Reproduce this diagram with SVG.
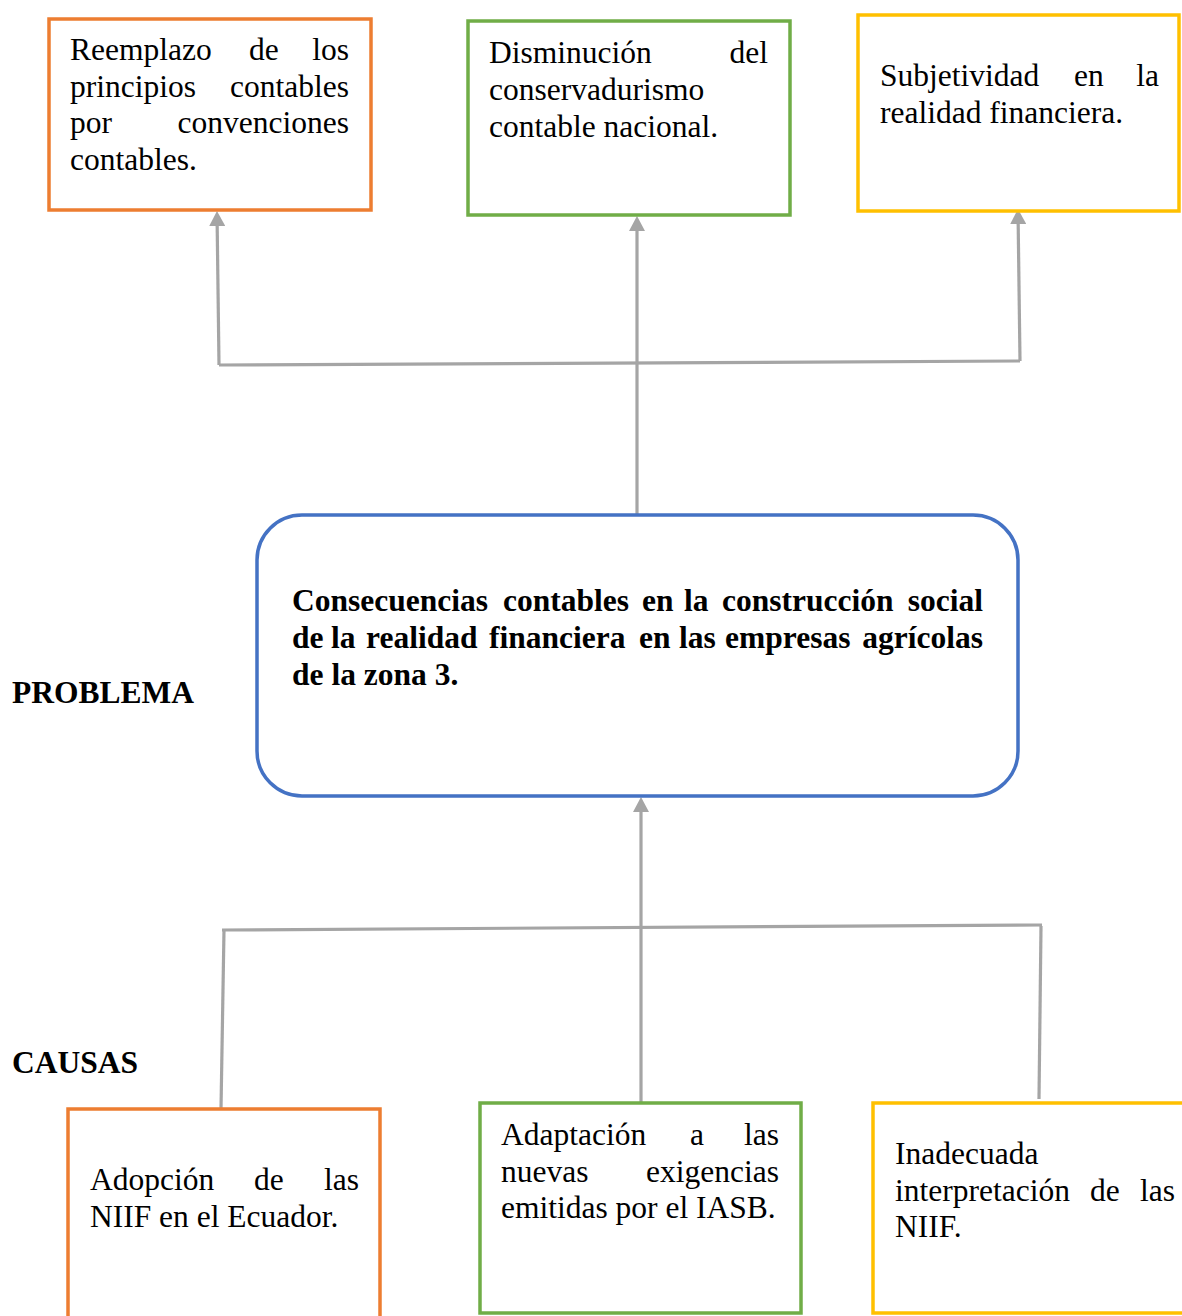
<svg xmlns="http://www.w3.org/2000/svg" width="1182" height="1316" viewBox="0 0 1182 1316">
<style>
  .t { font-family: "Liberation Serif", "Times New Roman", serif; font-size: 31.5px; fill: #000; }
  .b { font-weight: bold; }
  .e { text-anchor: end; }
  .box { fill: #fff; stroke-width: 3.5; }
  .or { stroke: #ED7D31; }
  .gr { stroke: #70AD47; }
  .ye { stroke: #FFC000; }
  .bl { stroke: #4472C4; }
  .con { fill: none; stroke: #A5A5A5; stroke-width: 3.2; }
</style>
<defs>
  <marker id="arr" markerUnits="userSpaceOnUse" markerWidth="16" markerHeight="16" refX="6" refY="8" orient="auto">
    <path d="M0,0 L15,8 L0,16 z" fill="#A5A5A5"/>
  </marker>
</defs>
<rect width="1182" height="1316" fill="#fff"/>

<g id="connectors">
  <path class="con" d="M219,365 L1020,361"/>
  <path class="con" d="M219,365 L217.1,220" marker-end="url(#arr)"/>
  <path class="con" d="M637,516 L637,225" marker-end="url(#arr)"/>
  <path class="con" d="M1020,361 L1018.1,218" marker-end="url(#arr)"/>
  <path class="con" d="M641,1102 L641,806" marker-end="url(#arr)"/>
  <path class="con" d="M222,930 L1042,925"/>
  <path class="con" d="M224,930 L221,1109"/>
  <path class="con" d="M1041,926 L1039,1099"/>
</g>

<g id="efecto1">
  <rect class="box or" x="49" y="19" width="322" height="191"/>
  <text class="t" x="70" y="60">Reemplazo</text>
  <text class="t" x="249" y="60">de</text>
  <text class="t e" x="349" y="60">los</text>
  <text class="t" x="70" y="96.5">principios</text>
  <text class="t e" x="349" y="96.5">contables</text>
  <text class="t" x="70" y="133">por</text>
  <text class="t e" x="349" y="133">convenciones</text>
  <text class="t" x="70" y="169.5">contables.</text>
</g>

<g id="efecto2">
  <rect class="box gr" x="468" y="21" width="322" height="194"/>
  <text class="t" x="489" y="63">Disminución</text>
  <text class="t e" x="768" y="63">del</text>
  <text class="t" x="489" y="100">conservadurismo</text>
  <text class="t" x="489" y="137">contable nacional.</text>
</g>

<g id="efecto3">
  <rect class="box ye" x="858" y="15" width="321" height="196"/>
  <text class="t" x="880" y="86">Subjetividad</text>
  <text class="t" x="1074" y="86">en</text>
  <text class="t e" x="1159" y="86">la</text>
  <text class="t" x="880" y="123">realidad financiera.</text>
</g>

<g id="problema">
  <rect class="box bl" x="257" y="515" width="761" height="281" rx="45" ry="45"/>
  <text class="t b" x="292" y="611">Consecuencias</text>
  <text class="t b" x="503" y="611">contables</text>
  <text class="t b" x="642" y="611">en</text>
  <text class="t b" x="684" y="611">la</text>
  <text class="t b" x="722" y="611">construcción</text>
  <text class="t b e" x="983" y="611">social</text>
  <text class="t b" x="292" y="648">de</text>
  <text class="t b" x="331" y="648">la</text>
  <text class="t b" x="366" y="648">realidad</text>
  <text class="t b" x="489" y="648">financiera</text>
  <text class="t b" x="639" y="648">en</text>
  <text class="t b" x="679" y="648">las</text>
  <text class="t b" x="725" y="648">empresas</text>
  <text class="t b e" x="983" y="648">agrícolas</text>
  <text class="t b" x="292" y="685">de la zona 3.</text>
</g>

<g id="label-problema">
  <text class="t b" x="12" y="703">PROBLEMA</text>
</g>
<g id="label-causas">
  <text class="t b" x="12" y="1073">CAUSAS</text>
</g>

<g id="causa1">
  <rect class="box or" x="68" y="1109" width="312" height="230"/>
  <text class="t" x="90" y="1190">Adopción</text>
  <text class="t" x="254" y="1190">de</text>
  <text class="t e" x="359" y="1190">las</text>
  <text class="t" x="90" y="1227">NIIF en el Ecuador.</text>
</g>

<g id="causa2">
  <rect class="box gr" x="480" y="1103" width="321" height="210"/>
  <text class="t" x="501" y="1145">Adaptación</text>
  <text class="t" x="690" y="1145">a</text>
  <text class="t e" x="779" y="1145">las</text>
  <text class="t" x="501" y="1181.5">nuevas</text>
  <text class="t e" x="779" y="1181.5">exigencias</text>
  <text class="t" x="501" y="1218">emitidas por el IASB.</text>
</g>

<g id="causa3">
  <rect class="box ye" x="873" y="1103" width="330" height="210"/>
  <text class="t" x="895" y="1164">Inadecuada</text>
  <text class="t" x="895" y="1200.5">interpretación</text>
  <text class="t" x="1090" y="1200.5">de</text>
  <text class="t e" x="1175" y="1200.5">las</text>
  <text class="t" x="895" y="1237">NIIF.</text>
</g>
</svg>
